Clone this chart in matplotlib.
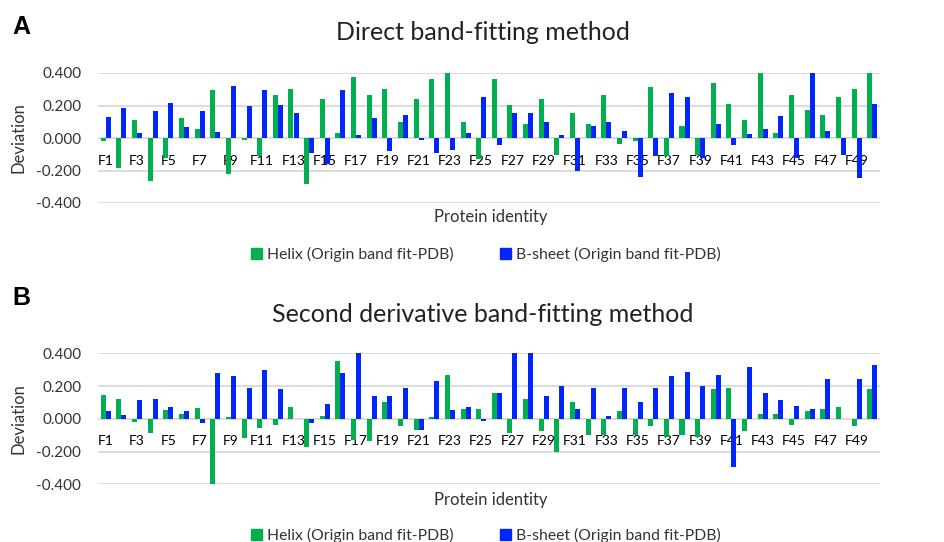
import numpy as np
import matplotlib
matplotlib.use("Agg")
import matplotlib.pyplot as plt
from matplotlib.patches import Patch

plt.rcParams['font.family'] = ['Lato', 'DejaVu Sans']

# === DATA ===
proteins = [f"F{i}" for i in range(1, 51)]

helix_direct = [-0.02, -0.184, 0.113, -0.265, -0.125, 0.125, 0.057, 0.293, -0.22, -0.01,
                -0.109, 0.265, 0.303, -0.283, 0.24, 0.032, 0.374, 0.265, 0.303, 0.099,
                0.24, 0.362, 0.40, 0.101, -0.129, 0.362, 0.206, 0.087, 0.24, -0.105,
                0.156, 0.087, 0.265, -0.034, -0.02, 0.311, -0.109, 0.075, -0.105, 0.339,
                0.208, 0.113, 0.40, 0.032, 0.265, 0.172, 0.141, 0.253, 0.303, 0.40]
sheet_direct = [0.131, 0.184, 0.028, 0.168, 0.214, 0.067, 0.168, 0.034, 0.321, 0.196,
                0.293, 0.206, 0.156, -0.091, -0.162, 0.293, 0.016, 0.125, -0.081, 0.141,
                -0.01, -0.091, -0.073, 0.028, 0.253, -0.044, 0.156, 0.156, 0.099, 0.016,
                -0.2, 0.075, 0.099, 0.044, -0.24, -0.109, 0.275, 0.253, -0.125, 0.085,
                -0.044, 0.026, 0.057, 0.135, -0.121, 0.40, 0.044, -0.105, -0.244, 0.212]

helix_second = [0.148, 0.12, -0.018, -0.087, 0.051, 0.032, 0.063, -0.40, 0.01, -0.116,
                -0.057, -0.035, 0.073, -0.17, 0.018, 0.355, -0.13, -0.134, 0.101, -0.045,
                -0.069, 0.01, 0.27, 0.061, 0.061, 0.16, -0.087, 0.12, -0.073, -0.2,
                0.101, -0.097, -0.097, 0.045, -0.097, -0.045, -0.11, -0.097, -0.11, 0.183,
                0.189, -0.073, 0.032, 0.032, -0.035, 0.045, 0.061, 0.073, -0.045, 0.183]
sheet_second = [0.045, 0.026, 0.114, 0.12, 0.073, 0.045, -0.028, 0.282, 0.26, 0.189,
                0.298, 0.183, 0.0, -0.028, 0.091, 0.282, 0.40, 0.142, 0.142, 0.189,
                -0.069, 0.231, 0.051, 0.073, -0.016, 0.16, 0.40, 0.40, 0.142, 0.2,
                0.061, 0.189, 0.02, 0.189, 0.101, 0.189, 0.26, 0.286, 0.2, 0.27,
                -0.292, 0.317, 0.16, 0.114, 0.079, 0.061, 0.242, 0.0, 0.246, 0.329]

y_ticks = [-0.4, -0.2, 0.0, 0.2, 0.4]
GREEN = '#00B050'
BLUE = '#0026FF'
GRID = '#D9D9D9'
W = 0.32

fig = plt.figure(figsize=(9.45, 5.42), dpi=100)


def draw_panel(rect, helix, sheet, title, letter, title_y, letter_y, xlabel_y, legend_y):
    ax = fig.add_axes(rect)
    x = np.arange(len(proteins))
    ax.bar(x - W / 2, helix, W, color=GREEN, zorder=2)
    ax.bar(x + W / 2, sheet, W, color=BLUE, zorder=2)
    ax.set_xlim(-0.5, len(proteins) - 0.5)
    ax.set_ylim(-0.4, 0.4)
    ax.set_yticks(y_ticks)
    ax.set_yticklabels([f"{v:.3f}" for v in y_ticks], fontsize=11, color='#333333')
    ax.set_xticks(x[::2])
    ax.set_xticklabels(proteins[::2], fontsize=10.8, color='#333333')
    ax.set_axisbelow(True)
    ax.grid(axis='y', color=GRID, linewidth=1.3, zorder=0)
    for s in ax.spines.values():
        s.set_visible(False)
    # category labels sit just under the zero line, Excel style
    ax.spines['bottom'].set_position(('data', 0))
    ax.tick_params(axis='both', length=0)
    ax.tick_params(axis='x', pad=12)
    ax.tick_params(axis='y', pad=12)

    mid_y = rect[1] + rect[3] / 2
    fig.text(19 / 945, mid_y, 'Deviation', rotation=90, ha='center', va='center',
             fontsize=12, color='#333333')
    fig.text(483 / 945, 1 - title_y / 542, title, ha='center', va='center', fontsize=18,
             color='#222222')
    fig.text(12 / 945, 1 - letter_y / 542, letter, ha='left', va='center', fontsize=18,
             fontweight='bold', family=['Liberation Sans', 'DejaVu Sans'])
    fig.text(491 / 945, 1 - xlabel_y / 542, 'Protein identity', ha='center', va='center',
             fontsize=12, color='#333333')
    handles = [Patch(color=GREEN, label='Helix (Origin band fit-PDB)'),
               Patch(color=BLUE, label='B-sheet (Origin band fit-PDB)')]
    fig.legend(handles=handles, loc='center', bbox_to_anchor=(486 / 945, 1 - legend_y / 542),
               ncol=2, frameon=False, fontsize=11.3, handlelength=0.7, handleheight=0.7,
               handletextpad=0.3, columnspacing=3.0, labelcolor='#333333')
    return ax


# panel A: direct band fitting
draw_panel([98 / 945, (542 - 203) / 542, 782 / 945, 130 / 542],
           helix_direct, sheet_direct, 'Direct band-fitting method', 'A',
           33, 27, 217, 254)

# panel B: second derivative band fitting
draw_panel([98 / 945, (542 - 484.3) / 542, 782 / 945, 131 / 542],
           helix_second, sheet_second, 'Second derivative band-fitting method', 'B',
           315, 298, 500, 535)

fig.savefig('out.png', dpi=100)
